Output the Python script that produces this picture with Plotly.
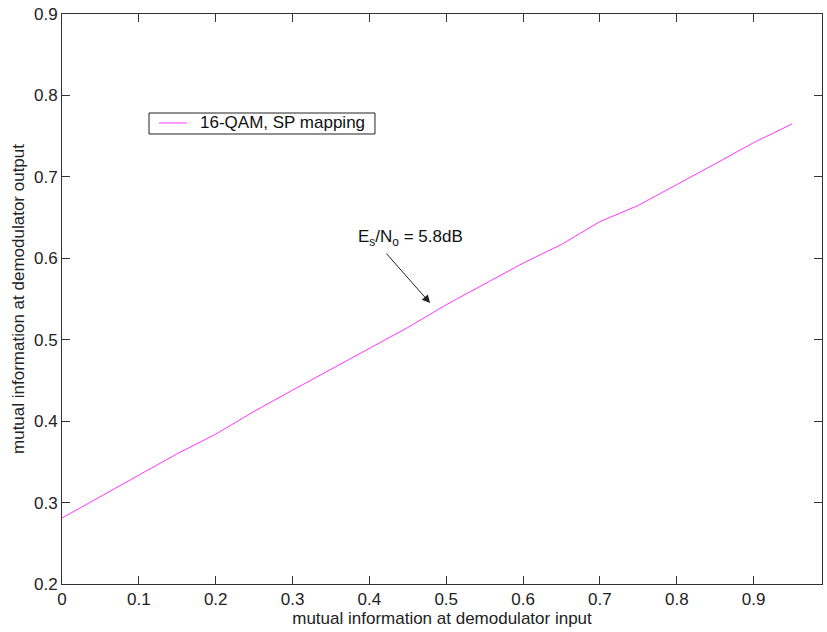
import plotly.graph_objects as go

x_vals = [0.0, 0.05, 0.1, 0.15, 0.2, 0.25, 0.3, 0.35, 0.4, 0.45,
          0.5, 0.55, 0.6, 0.65, 0.7, 0.75, 0.8, 0.85, 0.9, 0.95]
y_vals = [0.281, 0.307, 0.333, 0.360, 0.384, 0.412, 0.438, 0.464, 0.490, 0.515,
          0.543, 0.568, 0.594, 0.617, 0.645, 0.665, 0.690, 0.716, 0.742, 0.765]
series_name = "16-QAM, SP mapping"
x_ticks = [0, 0.1, 0.2, 0.3, 0.4, 0.5, 0.6, 0.7, 0.8, 0.9]
y_ticks = [0.2, 0.3, 0.4, 0.5, 0.6, 0.7, 0.8, 0.9]

FONT = "Liberation Sans, Arial, sans-serif"
LINE_COLOR = "#ff33ff"

fig = go.Figure()
fig.add_trace(go.Scatter(x=x_vals, y=y_vals, mode="lines", name=series_name,
                         line=dict(color=LINE_COLOR, width=1), showlegend=False))

axis_common = dict(showgrid=False, zeroline=False, showline=True, mirror="ticks",
                   linecolor="#333333", linewidth=1, ticks="inside", ticklen=8,
                   tickcolor="#333333", tickfont=dict(family=FONT, size=17, color="#222222"))

fig.update_xaxes(range=[0, 0.989], tickvals=x_ticks, ticktext=[f"{v:g}" for v in x_ticks],
                 title=dict(text="mutual information at demodulator input",
                            font=dict(family=FONT, size=17, color="#222222"), standoff=0),
                 **axis_common)
fig.update_yaxes(range=[0.2, 0.9], tickvals=y_ticks, ticktext=[f"{v:g}" for v in y_ticks],
                 title=dict(text="mutual information at demodulator output",
                            font=dict(family=FONT, size=17, color="#222222"), standoff=5),
                 **axis_common)

# annotation arrow and text
fig.add_annotation(x=0.479, y=0.545, xref="x", yref="y", ax=-45, ay=-51, text="",
                   showarrow=True, arrowhead=2, arrowsize=1.6, arrowwidth=1, arrowcolor="#222222")
fig.add_annotation(x=0.387, y=0.607, xref="paper", yref="paper", xanchor="left", yanchor="middle",
                   text="E<sub>s</sub>/N<sub>o</sub> = 5.8dB", showarrow=False,
                   font=dict(family=FONT, size=17, color="#111111"))

# legend box (drawn manually to match the compact reference box)
fig.add_shape(type="rect", xref="paper", yref="paper", x0=0.1145, x1=0.4118, y0=0.7895, y1=0.8263,
              line=dict(color="#222222", width=1), fillcolor="white", layer="above")
fig.add_shape(type="line", xref="paper", yref="paper", x0=0.1276, x1=0.1645, y0=0.8088, y1=0.8088,
              line=dict(color=LINE_COLOR, width=1), layer="above")
fig.add_annotation(x=0.1789, y=0.8088, xref="paper", yref="paper", xanchor="left", yanchor="middle",
                   text=series_name, showarrow=False,
                   font=dict(family=FONT, size=17, color="#111111"))

fig.update_layout(
    width=827, height=632,
    margin=dict(l=62, r=5, t=14, b=48),
    plot_bgcolor="white", paper_bgcolor="white",
    showlegend=False,
)

fig.write_html("out.html")
